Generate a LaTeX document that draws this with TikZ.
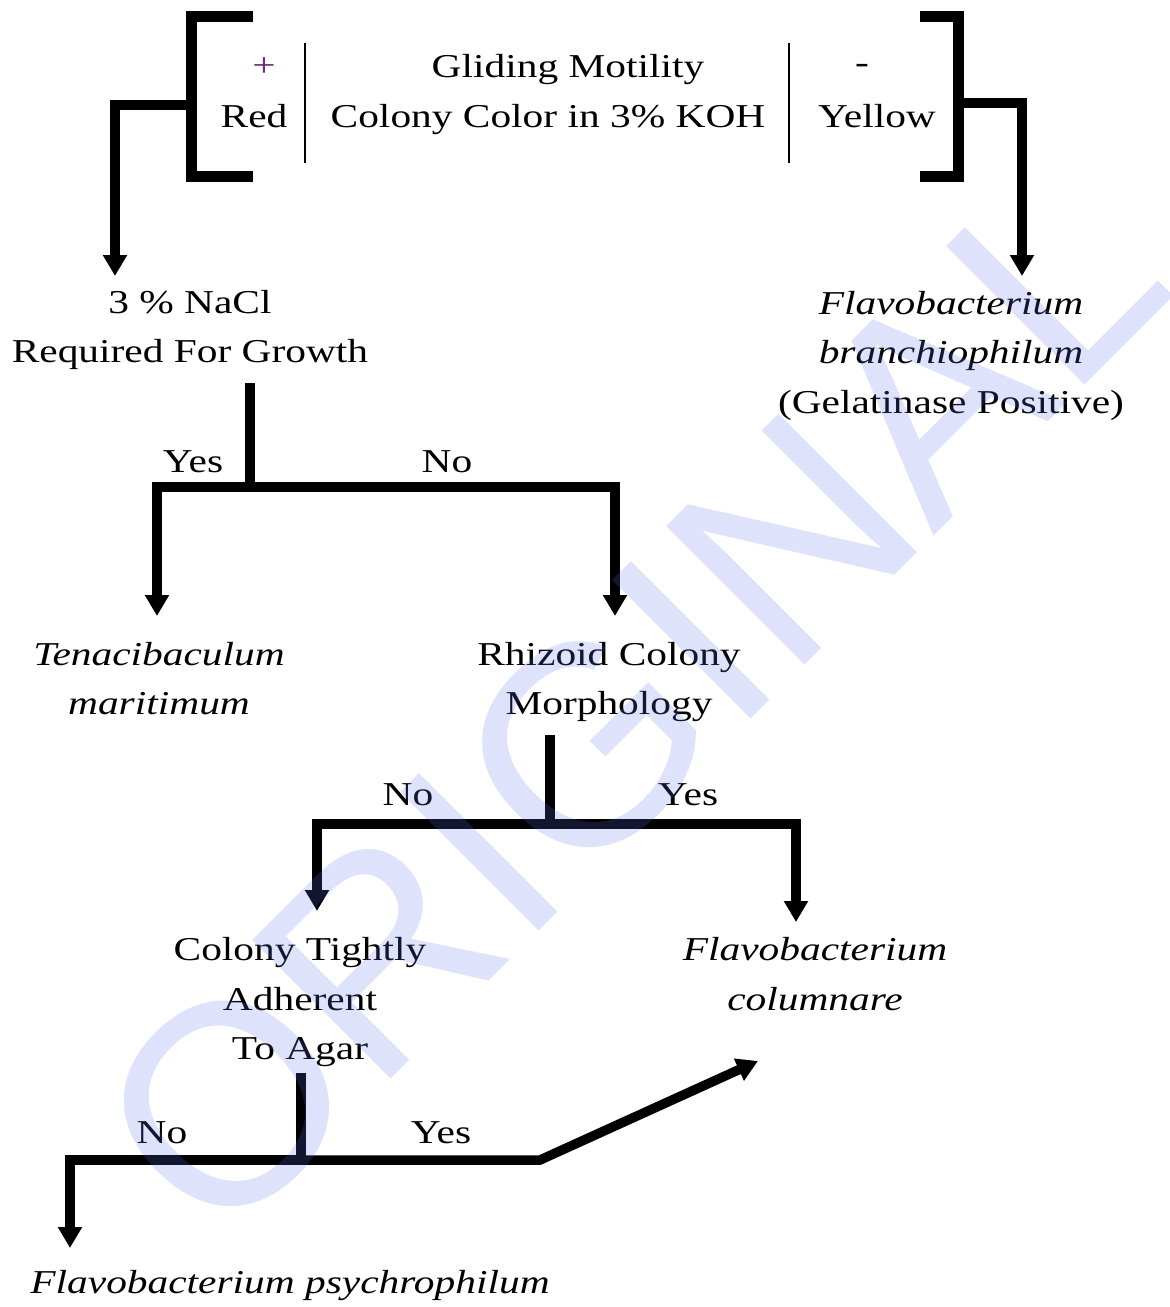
\documentclass[tikz,border=0pt]{standalone}
\usepackage{fontspec}
\setmainfont{Liberation Serif}[FakeStretch=1.24]
\newfontfamily\stampfont{Liberation Sans}
\usetikzlibrary{arrows.meta}
\definecolor{plusmark}{RGB}{105,45,115}
\definecolor{stampblue}{RGB}{90,110,230}

\begin{document}
\begin{tikzpicture}[x=0.02cm,y=-0.02cm,
  lbl/.style={inner sep=0pt, font=\fontsize{19}{28.45}\selectfont, align=center},
  link/.style={line width=0.19cm, line join=miter, line cap=butt},
  arr/.style={link, -{Triangle[length=0.42cm,width=0.46cm]}},
  brk/.style={line width=0.22cm, line join=miter},
  sepbar/.style={line width=0.05cm}]

\useasboundingbox (0,0) rectangle (1169,1307);

% ---- heading: bracketed key with two outcomes ----
\draw[brk] (253,17) -- (191,17) -- (191,177) -- (253,177);
\draw[brk] (920,17) -- (958,17) -- (958,177) -- (920,177);
\draw[sepbar] (305,43) -- (305,163);
\draw[sepbar] (789,43) -- (789,163);

\node[lbl, text=plusmark] (plus) at (264,67) {\strut+};
\node[lbl] (red)    at (254,118) {\strut Red};
\node[lbl] (glide)  at (568,68)  {\strut Gliding Motility};
\node[lbl] (koh)    at (548,118) {\strut Colony Color in 3\% KOH};
\node[lbl] (minus)  at (862,64)  {\strut -};
\node[lbl] (yellow) at (877,118) {\strut Yellow};

% ---- outcome nodes ----
\node[lbl] (nacl)   at (190,328) {\strut 3 \% NaCl\\\strut Required For Growth};
\node[lbl] (branch) at (951,354) {\strut\textit{Flavobacterium}\\\strut\textit{branchiophilum}\\\strut(Gelatinase Positive)};
\node[lbl] (tena)   at (159,680) {\strut\textit{Tenacibaculum}\\\strut\textit{maritimum}};
\node[lbl] (rhiz)   at (609,680) {\strut Rhizoid Colony\\\strut Morphology};
\node[lbl] (tight)  at (300,1000) {\strut Colony Tightly\\\strut Adherent\\\strut To Agar};
\node[lbl] (colum)  at (815,975) {\strut\textit{Flavobacterium}\\\strut\textit{columnare}};
\node[lbl] (psych)  at (290,1283) {\strut\textit{Flavobacterium psychrophilum}};

% ---- branch labels ----
\node[lbl] (yes1) at (193,463)  {\strut Yes};
\node[lbl] (no1)  at (447,463)  {\strut No};
\node[lbl] (no2)  at (408,795)  {\strut No};
\node[lbl] (yes2) at (688,795)  {\strut Yes};
\node[lbl] (no3)  at (162,1133) {\strut No};
\node[lbl] (yes3) at (441,1133) {\strut Yes};

% ---- connector points ----
\coordinate (lb)    at (191,105);
\coordinate (rb)    at (958,103);
\coordinate (lbTip) at (115,276);
\coordinate (rbTip) at (1022,276);

\coordinate (s1)  at (250,383);
\coordinate (j1)  at (250,487);
\coordinate (t1a) at (157,616);
\coordinate (t1b) at (615,616);

\coordinate (s2)  at (550,735);
\coordinate (j2)  at (550,824);
\coordinate (t2a) at (317,911);
\coordinate (t2b) at (796,922);

\coordinate (s3)  at (301,1073);
\coordinate (j3)  at (301,1160);
\coordinate (t3a) at (70,1248);
\coordinate (e3)  at (540,1160);
\coordinate (t3b) at (758,1061);

% ---- connectors ----
\draw[arr] (lb) -| (lbTip);
\draw[arr] (rb) -| (rbTip);

\draw[link] (s1) -- (j1);
\draw[arr] (j1) -| (t1a);
\draw[arr] (j1) -| (t1b);

\draw[link] (s2) -- (j2);
\draw[arr] (j2) -| (t2a);
\draw[arr] (j2) -| (t2b);

\draw[link] (s3) -- (j3);
\draw[arr] (j3) -| (t3a);
\draw[arr] (j3) -- (e3) -- (t3b);

% ---- stamp across the sheet ----
\node[rotate=45, anchor=base west, inner sep=0pt, text=stampblue, text opacity=0.2,
      font=\stampfont\fontsize{162}{162}\selectfont] (stamp) at (218,1252) {ORIGINAL};
\end{tikzpicture}
\end{document}
